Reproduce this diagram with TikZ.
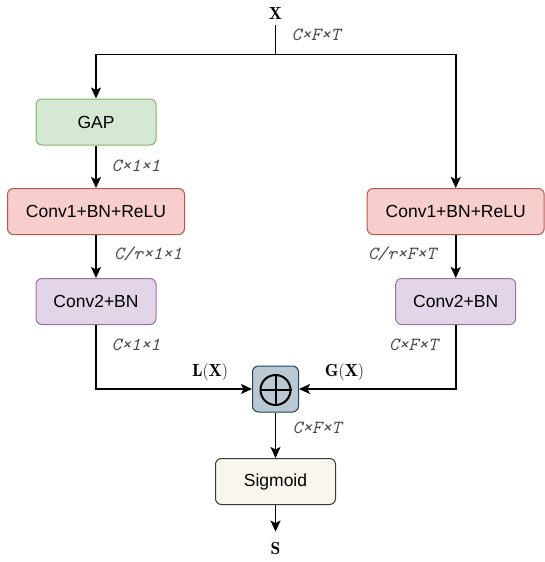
\documentclass[tikz,border=0pt]{standalone}
\usepackage{fontspec}
\setsansfont{Liberation Sans}
\usepackage{xcolor}
\usetikzlibrary{arrows.meta}

\definecolor{gapfill}{HTML}{D5E8D4}
\definecolor{gapline}{HTML}{82B366}
\definecolor{convfill}{HTML}{F8CECC}
\definecolor{convline}{HTML}{B85450}
\definecolor{bnfill}{HTML}{E1D5E7}
\definecolor{bnline}{HTML}{9673A6}
\definecolor{plusfill}{HTML}{BAC8D3}
\definecolor{plusline}{HTML}{23445D}
\definecolor{sigfill}{HTML}{F9F7ED}
\definecolor{sigline}{HTML}{36393D}
\definecolor{dimgray}{HTML}{4A4A4A}

\begin{document}
\begin{tikzpicture}[x=1pt,y=-1pt,
    block/.style={draw,rounded corners=6pt,line width=1pt,minimum width=120pt,
      minimum height=46pt,font=\sffamily\fontsize{17.5}{21}\selectfont},
    wideblock/.style={block,minimum width=177pt},
    wire/.style={line width=1.7pt},
    flow/.style={wire,-{Stealth[length=11pt,width=10pt,inset=2.5pt]}},
    dim/.style={font=\ttfamily\itshape\fontsize{18.5}{22}\selectfont,text=dimgray,inner sep=0pt},
    sym/.style={font=\fontsize{17.5}{21}\selectfont,inner sep=0pt}]
    \useasboundingbox (0,0) rectangle (544,562);
    % input and split
    \node[sym] (x) at (275.5,13) {$\mathbf{X}$};
    \coordinate (split) at (275.5,54.5);
    \node[dim] (dimin) at (316,35) {C×F×T};
    % local branch
    \node[block,fill=gapfill,draw=gapline] (gap) at (96,122) {GAP};
    \node[wideblock,fill=convfill,draw=convline] (convl) at (96,211.5) {Conv1+BN+ReLU};
    \node[block,fill=bnfill,draw=bnline] (bnl) at (96,301.5) {Conv2+BN};
    \node[dim] (dimgap) at (136,166) {C×1×1};
    \node[dim] (dimconvl) at (148,254) {C/r×1×1};
    \node[dim] (dimbnl) at (136,345) {C×1×1};
    % global branch
    \node[wideblock,fill=convfill,draw=convline] (convr) at (455.7,211.5) {Conv1+BN+ReLU};
    \node[block,fill=bnfill,draw=bnline] (bnr) at (455.7,301.5) {Conv2+BN};
    \node[dim] (dimconvr) at (402,254) {C/r×F×T};
    \node[dim] (dimbnr) at (413.5,345) {C×F×T};
    % fusion
    \node[draw=plusline,fill=plusfill,rounded corners=6pt,line width=1pt,minimum size=46pt] (plus) at (275.5,389) {};
    \node[circle,draw,line width=2pt,minimum size=30pt,inner sep=0pt] (oplus) at (275.5,390) {};
    \draw[line width=2pt] (oplus.north) -- (oplus.south);
    \draw[line width=2pt] (oplus.west) -- (oplus.east);
    \node[sym] (lx) at (210,372) {$\mathbf{L}(\mathbf{X})$};
    \node[sym] (gx) at (344.5,372) {$\mathbf{G}(\mathbf{X})$};
    \node[dim] (dimplus) at (317,428) {C×F×T};
    % output
    \node[block,fill=sigfill,draw=sigline] (sig) at (275.5,481.5) {Sigmoid};
    \node[sym] (s) at (275.5,548) {$\mathbf{S}$};
    % connections
    \draw[wire,shorten <=6pt] (x) -- (split);
    \draw[flow] (split) -| (gap);
    \draw[flow] (split) -| (convr);
    \draw[flow] (gap) -- (convl);
    \draw[flow] (convl) -- (bnl);
    \draw[flow] (convr) -- (bnr);
    \draw[flow] (bnl) |- (plus);
    \draw[flow] (bnr) |- (plus);
    \draw[flow] (plus) -- (sig);
    \draw[flow,shorten >=10pt] (sig) -- (s);
\end{tikzpicture}
\end{document}
